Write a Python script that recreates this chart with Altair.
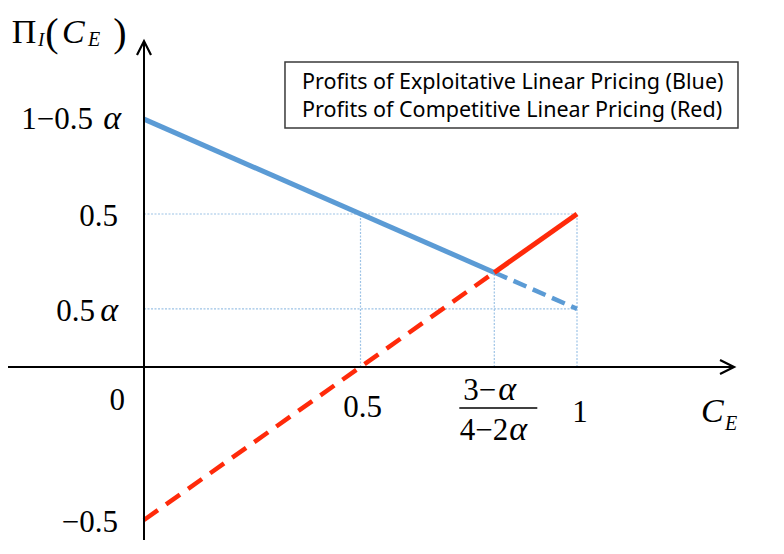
import altair as alt
import pandas as pd

# ---- data ----
alpha_label = "α"
ce_kink = 0.809          # (3-α)/(4-2α)
pi_kink = 0.309
blue_start = 0.81        # 1-0.5α
blue_end = 0.19          # 0.5α
red_start = -0.5
red_end = 0.5

blue_solid = {"x": [0.0], "y": [blue_start], "x2": [ce_kink], "y2": [pi_kink]}
blue_dash = {"x": [ce_kink], "y": [pi_kink], "x2": [1.0], "y2": [blue_end]}
red_dash = {"x": [0.0], "y": [red_start], "x2": [ce_kink], "y2": [pi_kink]}
red_solid = {"x": [ce_kink], "y": [pi_kink], "x2": [1.0], "y2": [red_end]}

guide_h_y = [0.5, blue_end]
guide_h_x0 = [0.0, 0.0]
guide_h_x1 = [1.0, 1.0]
guide_v_x = [0.5, ce_kink, 1.0]
guide_v_y0 = [0.0, 0.0, 0.0]
guide_v_y1 = [0.5, pi_kink, 0.5]

legend_lines = ["Profits of Exploitative Linear Pricing (Blue)",
                "Profits of Competitive Linear Pricing (Red)"]

# ---- scales ----
W, H = 768, 532
PX_X, PX_Y = 433.0, 306.0
X0_VIEW, Y0_VIEW = 136.0, 359.0
x_dom = [-X0_VIEW / PX_X, (W - X0_VIEW) / PX_X]
y_dom = [-(H - Y0_VIEW) / PX_Y, Y0_VIEW / PX_Y]
xs = alt.Scale(domain=x_dom, nice=False, zero=False)
ys = alt.Scale(domain=y_dom, nice=False, zero=False)

x_arrow_tip = 1.3626
y_arrow_tip = 1.065

SERIF = "Liberation Serif"
SANS = "Noto Sans"
BLUE = "#5B9BD5"
RED = "#FF2A0A"
GUIDE = "#9DC3E6"
FS = 31      # tick label font size
FA = 34      # alpha size


def seg(d, color, width, dash=None):
    kw = dict(color=color, strokeWidth=width, strokeCap="butt")
    if dash:
        kw["strokeDash"] = dash
    return alt.Chart(pd.DataFrame(d)).mark_rule(**kw).encode(
        x=alt.X("x:Q", scale=xs, axis=None),
        y=alt.Y("y:Q", scale=ys, axis=None),
        x2="x2:Q", y2="y2:Q")


def txt(x, y, s, dx, dy, size, italic=False, align="left", font=SERIF):
    return alt.Chart(pd.DataFrame({"x": [x], "y": [y], "t": [s]})).mark_text(
        align=align, baseline="alphabetic", dx=dx, dy=dy, fontSize=size,
        font=font, fontStyle="italic" if italic else "normal", color="black"
    ).encode(x=alt.X("x:Q", scale=xs, axis=None),
             y=alt.Y("y:Q", scale=ys, axis=None), text="t:N")


layers = []

# guide lines
gh = pd.DataFrame({"x": guide_h_x0, "x2": guide_h_x1, "y": guide_h_y, "y2": guide_h_y})
gv = pd.DataFrame({"x": guide_v_x, "x2": guide_v_x, "y": guide_v_y0, "y2": guide_v_y1})
for g in (gh, gv):
    layers.append(seg(g.to_dict(orient="list"), GUIDE, 1.2, [2, 1.5]))

# profit lines
layers.append(seg(red_dash, RED, 4.5, [17, 10]))
layers.append(seg(blue_dash, BLUE, 4.5, [14, 7]))
layers.append(seg(blue_solid, BLUE, 5))
layers.append(seg(red_solid, RED, 5))

# axes
layers.append(seg({"x": [x_dom[0]], "y": [0.0], "x2": [x_arrow_tip], "y2": [0.0]}, "black", 2))
layers.append(seg({"x": [0.0], "y": [y_dom[0]], "x2": [0.0], "y2": [y_arrow_tip]}, "black", 2))
layers.append(alt.Chart(pd.DataFrame({"x": [0.0], "y": [y_arrow_tip]})).mark_point(
    shape="M-0.5,1L0,0L0.5,1", size=784, filled=False, strokeWidth=2.2,
    color="black", opacity=1).encode(
    x=alt.X("x:Q", scale=xs, axis=None), y=alt.Y("y:Q", scale=ys, axis=None)))
layers.append(alt.Chart(pd.DataFrame({"x": [x_arrow_tip], "y": [0.0]})).mark_point(
    shape="M-1,-0.5L0,0L-1,0.5", size=784, filled=False, strokeWidth=2.2,
    color="black", opacity=1).encode(
    x=alt.X("x:Q", scale=xs, axis=None), y=alt.Y("y:Q", scale=ys, axis=None)))

# legend box
box_x0, box_x1 = 0.3256, 1.3718
box_y0, box_y1 = 0.781, 0.9967
layers.append(alt.Chart(pd.DataFrame({"x": [box_x0], "x2": [box_x1], "y": [box_y0], "y2": [box_y1]}))
              .mark_rect(fill="white", stroke="#3a3a3a", strokeWidth=1.5)
              .encode(x=alt.X("x:Q", scale=xs, axis=None), x2="x2:Q",
                      y=alt.Y("y:Q", scale=ys, axis=None), y2="y2:Q"))
layers.append(txt(box_x0, box_y1, legend_lines[0], 17, 27, 21.5, font=SANS))
layers.append(txt(box_x0, box_y1, legend_lines[1], 17, 55, 21.5, font=SANS))

# y tick labels
layers.append(txt(0, blue_start, "1\u22120.5", -51, 10, FS, align="right"))
layers.append(txt(0, blue_start, alpha_label, -23, 10, FA, italic=True, align="right"))
layers.append(txt(0, 0.5, "0.5", -26, 12, FS, align="right"))
layers.append(txt(0, blue_end, "0.5", -49, 12, FS, align="right"))
layers.append(txt(0, blue_end, alpha_label, -26, 12, FA, italic=True, align="right"))
layers.append(txt(0, 0, "0", -19, 43, FS, align="right"))
layers.append(txt(0, red_start, "\u22120.5", -26, 12, FS, align="right"))

# x tick labels
layers.append(txt(0.5, 0, "0.5", 2, 50, FS, align="center"))
layers.append(txt(1.0, 0, "1", 3, 55, FS, align="center"))
layers.append(txt(ce_kink, 0, "3\u2212", 2, 33, FS, align="right"))
layers.append(txt(ce_kink, 0, alpha_label, 4, 33, FA, italic=True, align="left"))
layers.append(txt(ce_kink, 0, "4\u22122", 14, 73, FS, align="right"))
layers.append(txt(ce_kink, 0, alpha_label, 15, 73, FA, italic=True, align="left"))
frac_y = -41 / PX_Y
layers.append(seg({"x": [ce_kink - 35 / PX_X], "y": [frac_y],
                   "x2": [ce_kink + 43 / PX_X], "y2": [frac_y]}, "black", 1.5))

# axis titles
layers.append(txt(x_arrow_tip, 0, "C", -33, 55, 34, italic=True))
layers.append(txt(x_arrow_tip, 0, "E", -9, 63, 20, italic=True))

layers.append(txt(0, y_arrow_tip, "\u03a0", -120, 2, 34, align="center"))
layers.append(txt(0, y_arrow_tip, "I", -106, 5, 19, italic=True))
layers.append(txt(0, y_arrow_tip, "(", -92, 5, 40, align="center"))
layers.append(txt(0, y_arrow_tip, "C", -82, 2, 34, italic=True))
layers.append(txt(0, y_arrow_tip, "E", -56, 5, 20, italic=True))
layers.append(txt(0, y_arrow_tip, ")", -24, 5, 40, align="center"))

chart = alt.layer(*layers).properties(
    width=W, height=H, padding=0,
    autosize=alt.AutoSizeParams(type="none"),
    background="white",
).configure_view(stroke=None)

chart.save("out.html", embed_options={"renderer": "svg", "actions": False})
